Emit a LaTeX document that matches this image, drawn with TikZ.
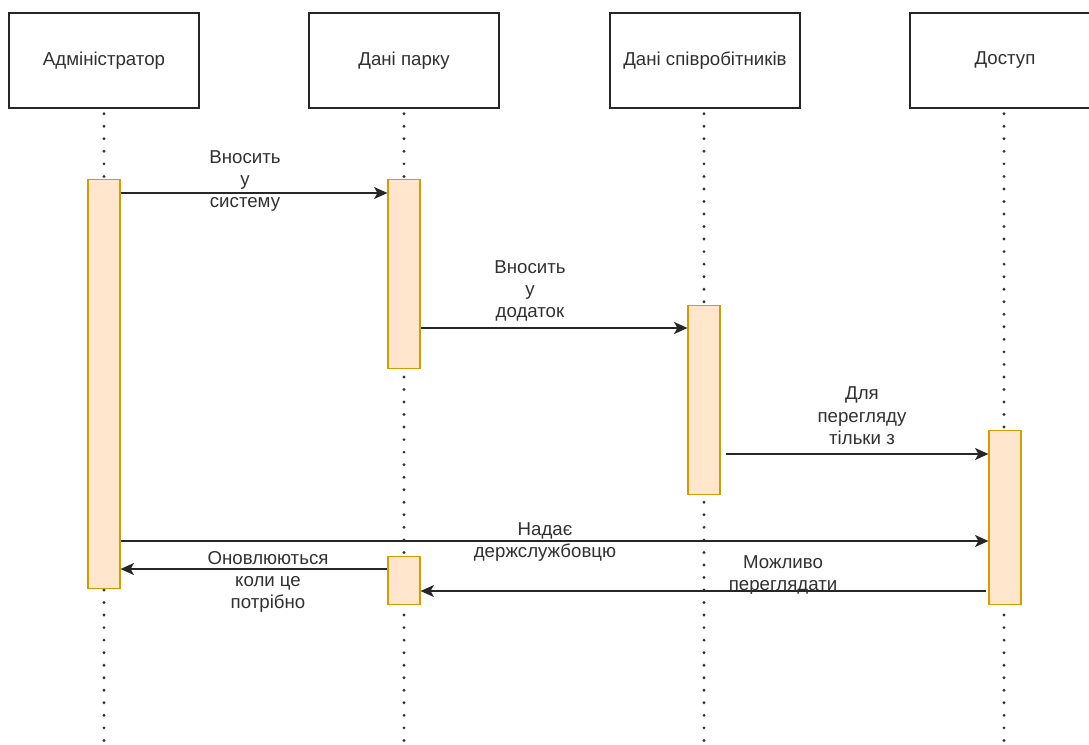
\documentclass[tikz,border=0pt]{standalone}
\usepackage{fontspec}
\setmainfont{Liberation Sans}
\usetikzlibrary{arrows.meta}
\definecolor{barfill}{HTML}{FFE6CC}
\definecolor{barline}{HTML}{D79B00}
\definecolor{txt}{HTML}{303030}
\begin{document}
\begin{tikzpicture}[x=0.75pt,y=-0.75pt,
  every node/.style={font=\fontsize{14}{16.8}\selectfont, text=txt},
  header/.style={draw=black!85, line width=1.1pt, fill=white, minimum width=190*0.75pt,
    minimum height=95*0.75pt, inner sep=0pt},
  lifeline/.style={line width=2.4pt, line cap=round, dash pattern=on 0pt off 9.4pt, black!80},
  actbar/.style={draw=barline, fill=barfill, line width=0.9pt, minimum width=32*0.75pt,
    inner sep=0pt, anchor=north},
  msg/.style={line width=1.1pt, black!85, -{Stealth[length=10pt,width=9pt,inset=2.5pt]}},
  lbl/.style={align=center, inner sep=0pt}
]
\useasboundingbox (0,0) rectangle (1089,744);

% participant headers
\node[header] (hA) at (104,60.5) {Адміністратор};
\node[header] (hP) at (404,60.5) {Дані парку};
\node[header] (hS) at (705,60.5) {Дані співробітників};
\node[header] (hD) at (1005,60.5) {Доступ};

% lifelines
\coordinate (eA) at (104,744);
\coordinate (eP) at (404,744);
\coordinate (eS) at (704,744);
\coordinate (eD) at (1004,744);
\draw[lifeline] (hA.south) ++(0,5) -- (eA);
\draw[lifeline] (hP.south) ++(0,5) -- (eP);
\draw[lifeline] ([xshift=-0.75pt]hS.south) ++(0,5) -- (eS);
\draw[lifeline] ([xshift=-0.75pt]hD.south) ++(0,5) -- (eD);

% activation bars
\node[actbar, minimum height=409*0.75pt] (bA)  at (104,179) {};
\node[actbar, minimum height=189*0.75pt] (bP1) at (404,179) {};
\node[actbar, minimum height=48*0.75pt]  (bP2) at (404,556) {};
\node[actbar, minimum height=189*0.75pt] (bS)  at (704,305) {};
\node[actbar, minimum height=174*0.75pt] (bD)  at (1005,430) {};

% messages
\draw[msg] (bA.east |- 0,193) -- (bP1.west |- 0,193);
\node[lbl] at (245,181) {Вносить\\у\\систему};

\draw[msg] (bP1.east |- 0,328) -- (bS.west |- 0,328);
\node[lbl] at (530,291) {Вносить\\у\\додаток};

\draw[msg] ([xshift=3.75pt]bS.east |- 0,454) -- (bD.west |- 0,454);
\node[lbl] at (862,416) {Для\\перегляду\\тільки з};

\draw[msg] (bA.east |- 0,541) -- (bD.west |- 0,541);
\node[lbl] at (545,542) {Надає\\держслужбовцю};

\draw[msg] (bP2.west |- 0,569) -- (bA.east |- 0,569);
\node[lbl] at (268,582) {Оновлюються\\коли це\\потрібно};

\draw[msg] ([xshift=-1.5pt]bD.west |- 0,591) -- (bP2.east |- 0,591);
\node[lbl] at (783,575) {Можливо\\переглядати};
\end{tikzpicture}
\end{document}
